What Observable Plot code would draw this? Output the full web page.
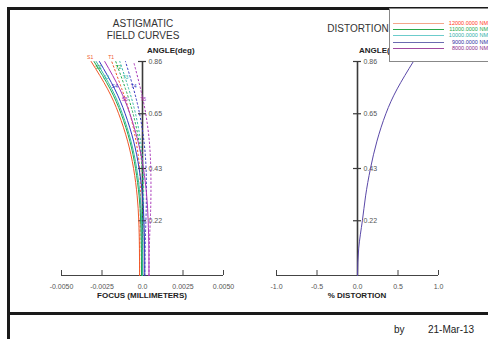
<!DOCTYPE html>
<html>
<head>
<meta charset="utf-8">
<script src="https://cdn.jsdelivr.net/npm/d3@7"></script>
<script src="https://cdn.jsdelivr.net/npm/@observablehq/plot@0.6"></script>
<style>
  html, body { margin: 0; padding: 0; background: #fff; }
  body { width: 488px; height: 339px; position: relative; overflow: hidden; font-family: "Liberation Sans", Arial, sans-serif; }
  .abs { position: absolute; white-space: nowrap; line-height: 1; }
  .c { transform: translateX(-50%); }
  .title { font-size: 10px; color: #333; }
  .bold { font-weight: bold; font-size: 8px; color: #222; }
  #left, #right { position: absolute; top: 0; }
  #left { left: 0; }
  #right { left: 244px; }
  .bar { position: absolute; background: #1a1a1a; }
  #legend { position: absolute; left: 389px; top: 8px; width: 110px; height: 52px; border: 1px solid #888; background: #fff; }
  .lrow { position: absolute; left: 0; width: 100px; height: 7px; }
  .lline { position: absolute; left: 3px; width: 51px; top: 3px; height: 1px; }
  .ltext { position: absolute; right: 2px; top: 0px; font-size: 5.5px; line-height: 7px; text-align: right; }
</style>
</head>
<body>
<script>
// ---- data ----
const angles = [0, 0.11, 0.22, 0.32, 0.43, 0.54, 0.65, 0.75, 0.86];
const wavelengths = ["12000.0000 NM", "11000.0000 NM", "10000.0000 NM", "9000.0000 NM", "8000.0000 NM"];
// sagittal field curves (mm), one per wavelength
const sag1 = [-0.00018, -0.00019, -0.00023, -0.00033, -0.00055, -0.00092, -0.00147, -0.00216, -0.00317];
const sag2 = [-0.00006, -0.00007, -0.00011, -0.00021, -0.00043, -0.00078, -0.00132, -0.00200, -0.00299];
const sag3 = [0.00000, -0.00001, -0.00005, -0.00015, -0.00036, -0.00071, -0.00124, -0.00190, -0.00286];
const sag4 = [0.00014, 0.00013, 0.00009, 0.00000, -0.00021, -0.00055, -0.00107, -0.00172, -0.00266];
const sag5 = [0.00040, 0.00039, 0.00035, 0.00026, 0.00006, -0.00028, -0.00078, -0.00141, -0.00233];
// tangential field curves (mm)
const tan1 = [-0.00018, -0.00017, -0.00014, -0.00013, -0.00018, -0.00040, -0.00078, -0.00128, -0.00190];
const tan2 = [-0.00006, -0.00005, -0.00001, 0.00001, -0.00003, -0.00022, -0.00058, -0.00105, -0.00165];
const tan3 = [0.00000, 0.00001, 0.00005, 0.00007, 0.00004, -0.00012, -0.00043, -0.00085, -0.00140];
const tan4 = [0.00014, 0.00016, 0.00021, 0.00024, 0.00022, 0.00009, -0.00018, -0.00055, -0.00105];
const tan5 = [0.00040, 0.00042, 0.00048, 0.00052, 0.00051, 0.00042, 0.00020, -0.00012, -0.00055];
// distortion (%)
const distortion = [0, 0.015, 0.06, 0.10, 0.16, 0.24, 0.35, 0.49, 0.69];
// curve labels
const sagLabels = ["S1", "S2", "S3", "S4", "S5"];
const tanLabels = ["T1", "T2", "T3", "T4", "T5"];
const labelAngles = [0.867, 0.83, 0.79, 0.75, 0.70];
// ticks
const focusTicks = [-0.005, -0.0025, 0, 0.0025, 0.005];
const focusTickLabels = ["-0.0050", "-0.0025", "0.0", "0.0025", "0.0050"];
const distTicks = [-1, -0.5, 0, 0.5, 1];
const distTickLabels = ["-1.0", "-0.5", "0.0", "0.5", "1.0"];
const angleTicks = [0.22, 0.43, 0.65, 0.86];
const angleTickLabels = ["0.22", "0.43", "0.65", "0.86"];

// ---- styles ----
const curveColors = ["#f0582a", "#1fa84a", "#35b8a8", "#3434c0", "#a834b8"];
const legendLineColors = ["#f4a58a", "#2aa84a", "#6ccccc", "#6a6ab0", "#a04aa0"];
const legendTextColors = ["#ff3a1a", "#1fa84a", "#30b0a8", "#3030a0", "#8a2a8a"];
const axisColor = "#444";
const tickText = "#555";
const font = "Liberation Sans, Arial, sans-serif";

const sags = [sag1, sag2, sag3, sag4, sag5];
const tans = [tan1, tan2, tan3, tan4, tan5];
const sagData = [], tanData = [];
sags.forEach((arr, w) => arr.forEach((v, j) => sagData.push({w, angle: angles[j], focus: v, color: curveColors[w]})));
tans.forEach((arr, w) => arr.forEach((v, j) => tanData.push({w, angle: angles[j], focus: v, color: curveColors[w]})));
const labelData = [];
labelAngles.forEach((a, w) => {
  const fs = d3.scaleLinear(angles, sags[w]);
  const ft = d3.scaleLinear(angles, tans[w]);
  labelData.push({text: sagLabels[w], angle: a, focus: fs(a), color: curveColors[w]});
  labelData.push({text: tanLabels[w], angle: a, focus: ft(a), color: curveColors[w]});
});
const distData = angles.map((a, j) => ({angle: a, d: distortion[j]}));

function axesMarks(xDomain, xTicks, xTickLabels) {
  return [
    Plot.ruleY([0], {x1: xDomain[0], x2: xDomain[1], stroke: axisColor, strokeWidth: 1}),
    Plot.ruleX(xTicks, {x: d => d, y1: 0, y2: 0, insetTop: -5, stroke: axisColor, strokeWidth: 1}),
    Plot.text(xTicks, {x: d => d, y: 0, text: (d, i) => xTickLabels[i], dy: 11, fontSize: 7, fill: tickText}),
    Plot.ruleX([0], {y1: 0, y2: 0.86, stroke: "#3a3a3a", strokeWidth: 1.6}),
    Plot.ruleY(angleTicks, {y: d => d, x1: 0, x2: 0, insetLeft: -4, insetRight: -4, stroke: "#3a3a3a", strokeWidth: 1.2}),
    Plot.text(angleTicks, {x: 0, y: d => d, text: (d, i) => angleTickLabels[i], dx: 6, textAnchor: "start", fontSize: 7, fill: tickText})
  ];
}

const left = Plot.plot({
  width: 244, height: 339,
  marginLeft: 61, marginRight: 21, marginTop: 61, marginBottom: 64,
  style: {background: "transparent", fontFamily: font},
  x: {domain: [-0.005, 0.005], axis: null},
  y: {domain: [0, 0.86], axis: null},
  color: {type: "identity"},
  marks: [
    ...axesMarks([-0.005, 0.005], focusTicks, focusTickLabels),
    Plot.line(tanData, {x: "focus", y: "angle", z: "w", stroke: "color", strokeWidth: 1, strokeDasharray: "1.5,2.5", curve: "natural"}),
    Plot.line(sagData, {x: "focus", y: "angle", z: "w", stroke: "color", strokeWidth: 1, curve: "natural"}),
    Plot.text(labelData, {x: "focus", y: "angle", text: "text", fill: "color", fontSize: 5, dy: -2})
  ]
});
left.id = "left";
document.body.appendChild(left);

const right = Plot.plot({
  width: 244, height: 339,
  marginLeft: 32, marginRight: 50, marginTop: 61, marginBottom: 64,
  style: {background: "transparent", fontFamily: font},
  x: {domain: [-1, 1], axis: null},
  y: {domain: [0, 0.86], axis: null},
  marks: [
    ...axesMarks([-1, 1], distTicks, distTickLabels),
    Plot.line(distData, {x: "d", y: "angle", stroke: "#5a48a8", strokeWidth: 1, curve: "natural"})
  ]
});
right.id = "right";
document.body.appendChild(right);

function addText(txt, cls, x, y, center) {
  const el = document.createElement("div");
  el.className = "abs " + cls + (center ? " c" : "");
  el.textContent = txt;
  el.style.left = x + "px";
  el.style.top = y + "px";
  document.body.appendChild(el);
  return el;
}
function addBar(x, y, w, h) {
  const el = document.createElement("div");
  el.className = "bar";
  Object.assign(el.style, {left: x + "px", top: y + "px", width: w + "px", height: h + "px"});
  document.body.appendChild(el);
}

// frame
addBar(7, 7, 481, 2.5);
addBar(7, 7, 2.5, 332);
addBar(7, 312, 481, 2.5);

// titles
addText("ASTIGMATIC", "title", 143, 19, true);
addText("FIELD CURVES", "title", 143, 31, true);
addText("DISTORTION", "title", 358, 24, true);
addText("ANGLE(deg)", "bold", 147, 47, false);
addText("ANGLE(deg)", "bold", 359, 47, false);
addText("FOCUS (MILLIMETERS)", "bold", 142, 292, true);
addText("% DISTORTION", "bold", 357, 292, true);

// footer
const by = addText("by", "", 394, 325, false); by.style.fontSize = "10px"; by.style.color = "#222";
const dt = addText("21-Mar-13", "", 428, 325, false); dt.style.fontSize = "10px"; dt.style.color = "#222";

// legend
const lg = document.createElement("div");
lg.id = "legend";
document.body.appendChild(lg);
const rowTops = [10.5, 17, 23, 29.5, 35.5];
wavelengths.forEach((w, i) => {
  const row = document.createElement("div");
  row.className = "lrow";
  row.style.top = rowTops[i] + "px";
  const ln = document.createElement("div");
  ln.className = "lline";
  ln.style.background = legendLineColors[i];
  const tx = document.createElement("div");
  tx.className = "ltext";
  tx.style.color = legendTextColors[i];
  tx.textContent = w;
  row.appendChild(ln); row.appendChild(tx);
  lg.appendChild(row);
});
</script>
</body>
</html>
